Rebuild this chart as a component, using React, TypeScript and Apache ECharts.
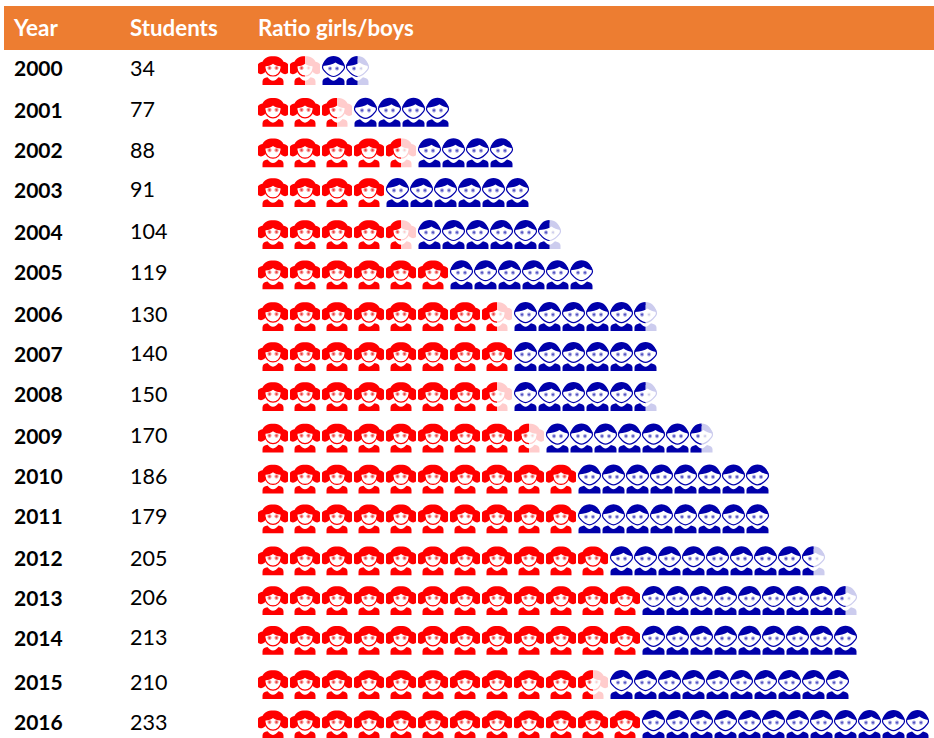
import React, { useEffect, useRef } from "react";
import * as echarts from "echarts";

const YEARS = ["2000","2001","2002","2003","2004","2005","2006","2007","2008","2009","2010","2011","2012","2013","2014","2015","2016"];
const STUDENTS = [34,77,88,91,104,119,130,140,150,170,186,179,205,206,213,210,233];
const GIRL_ICONS = [1.5,2.5,4.5,4,4.5,6,7.5,8,7.5,8.5,10,10,11,12,12,10.5,12];
const BOY_ICONS = [1.5,4,4,6,5.5,6,5.5,6,5.5,6.5,8,8,8.5,8.5,9,10,12];
const HEADERS = ["Year","Students","Ratio girls/boys"];

// small per-row layout correction, px (the source table's rows are not evenly spaced)
const ROW_NUDGE = [0,1,0.5,-0.6,0.6,0,1,0,-0.7,0,0,-1,0,-1,-2,1.4,0.6];

const RED = "#FF0000", RED_FADE = "#FFCCCC", RED_EYE = "#F6A0A0", RED_PUPIL = "#F04040";
const BLUE = "#0000AA", BLUE_FADE = "#CCCCEE", BLUE_EYE = "#B0B0E6", BLUE_PUPIL = "#5050C0";
const FONT = "Lato";

const GIRL_W = 30, BOY_W = 23, ICON_H = 29;
const BOY_SLOT = 0.75; // a boy icon takes three quarters of a girl icon's slot

const GIRL_HAIR = "M15 0C9.5 0 6 2 4.5 5.5C3 5.5 1 6.5 0 8V16.5C2 19 5 18 7.5 15.5L7.5 10C11 10 13 9 15 7.5C17 9 19 10 22.5 10L22.5 15.5C25 18 28 19 30 16.5V8C29 6.5 27 5.5 25.5 5.5C24 2 20.5 0 15 0Z";
const GIRL_CHIN = "M7 12.5C7.5 17 11 20 15 20C19 20 22.5 17 23 12.5";
const GIRL_BODY = "M4.5 29V25.5C4.5 23 6.5 21.5 9.5 21.2C11 23 13 24.8 15 24.8C17 24.8 19 23 20.5 21.2C23.5 21.5 25.5 23 25.5 25.5V29Z";
const BOY_FACE = "M11.5 2C18 2 22.5 8 22.5 11C22.5 14 16 20.5 11.5 20.5C7 20.5 0.5 14 0.5 11C0.5 8 5 2 11.5 2Z";
const BOY_HAIR = "M0.5 10C1.5 4 6 0 11.5 0C17 0 21.5 4 22.5 10C19 9.5 16 8.5 13.5 6.5C11 8.5 6 9.5 0.5 10Z";
const BOY_BODY = "M0.5 29V25.5C0.5 23.5 2.5 22 6 21.3C8 23 10 24.8 11.5 24.8C13 24.8 15 23 17 21.3C20.5 22 22.5 23.5 22.5 25.5V29Z";

function rawPath(d: string, box: number[], style: any) {
  return { type: "path", shape: { pathData: d, x: box[0], y: box[1], width: box[2], height: box[3] }, style };
}

function eyes(cx1: number, cx2: number, cy: number, halo: string, pupil: string) {
  return [cx1, cx2].flatMap((cx) => [
    { type: "circle", shape: { cx, cy, r: 2.1 }, style: { fill: halo } },
    { type: "circle", shape: { cx, cy, r: 1 }, style: { fill: pupil } },
  ]);
}

function girlParts(c: string, halo: string, pupil: string) {
  return [
    rawPath(GIRL_HAIR, [0, 0, 30, 18.5], { fill: c }),
    rawPath(GIRL_CHIN, [7, 12.5, 16, 7.5], { fill: "none", stroke: c, lineWidth: 1.2 }),
    ...eyes(11.5, 18.5, 12, halo, pupil),
    rawPath(GIRL_BODY, [4.5, 21.2, 21, 7.8], { fill: c }),
  ];
}
function boyParts(c: string, halo: string, pupil: string) {
  return [
    rawPath(BOY_FACE, [0.5, 2, 22, 18.5], { fill: "#fff", stroke: c, lineWidth: 1.2 }),
    rawPath(BOY_HAIR, [0.5, 0, 22, 10], { fill: c }),
    ...eyes(8, 15, 12.5, halo, pupil),
    rawPath(BOY_BODY, [0.5, 21.3, 22, 7.7], { fill: c }),
  ];
}

function icon(x: number, y: number, frac: number, w: number, parts: (c: string, h: string, p: string) => any[], dark: string, fade: string, halo: string, pupil: string) {
  const children: any[] = [];
  if (frac >= 1) {
    children.push(...parts(dark, halo, pupil));
  } else {
    children.push(...parts(fade, "#F4F4F4", fade));
    children.push({
      type: "group",
      clipPath: { type: "rect", shape: { x: 0, y: -1, width: w * frac, height: ICON_H + 2 } },
      children: parts(dark, halo, pupil),
    });
  }
  return { type: "group", x, y, children };
}

export default function App() {
  const ref = useRef<HTMLDivElement>(null);
  useEffect(() => {
    document.body.style.margin = "0";
    const chart = echarts.init(ref.current!, undefined, { renderer: "svg", width: 934, height: 738 });

    const rowTop = (api: any, row: number) => api.coord([0, row])[1] - ICON_H / 2 + ROW_NUDGE[row];

    const renderGirls = (p: any, api: any) => {
      const row = api.value(0), n = api.value(1);
      const children: any[] = [];
      for (let i = 0; i < Math.ceil(n); i++) {
        const x = api.coord([i, row])[0];
        children.push(icon(x, rowTop(api, row), Math.min(1, n - i), GIRL_W, girlParts, RED, RED_FADE, RED_EYE, RED_PUPIL));
      }
      return { type: "group", children };
    };
    const renderBoys = (p: any, api: any) => {
      const row = api.value(0), n = api.value(1), start = Math.ceil(GIRL_ICONS[row]);
      const children: any[] = [];
      for (let i = 0; i < Math.ceil(n); i++) {
        const x = api.coord([start + i * BOY_SLOT, row])[0];
        children.push(icon(x, rowTop(api, row), Math.min(1, n - i), BOY_W, boyParts, BLUE, BLUE_FADE, BLUE_EYE, BLUE_PUPIL));
      }
      return { type: "group", children };
    };
    const renderText = (p: any, api: any) => {
      const row = api.value(0);
      const y = api.coord([0, row])[1] - 3 + ROW_NUDGE[row];
      return {
        type: "group",
        children: [
          { type: "text", x: 14, y, style: { text: YEARS[row], fontFamily: FONT, fontWeight: "bold", fontSize: 21, fill: "#000", verticalAlign: "middle", align: "left" } },
          { type: "text", x: 130, y, style: { text: String(STUDENTS[row]), fontFamily: FONT, fontSize: 21.5, fill: "#000", verticalAlign: "middle", align: "left" } },
        ],
      };
    };

    chart.setOption({
      animation: false,
      backgroundColor: "#fff",
      grid: { left: 258, top: 70.5, width: 672, height: 653.5 },
      xAxis: { type: "value", min: 0, max: 21, show: false },
      yAxis: { type: "category", inverse: true, boundaryGap: false, data: YEARS, show: false },
      graphic: [
        { type: "rect", shape: { x: 4, y: 6, width: 930, height: 44 }, style: { fill: "#ED7D31" } },
        { type: "text", x: 14, y: 27, style: { text: HEADERS[0], fontFamily: FONT, fontWeight: "bold", fontSize: 22.5, fill: "#fff", verticalAlign: "middle" } },
        { type: "text", x: 130, y: 27, style: { text: HEADERS[1], fontFamily: FONT, fontWeight: "bold", fontSize: 22.3, fill: "#fff", verticalAlign: "middle" } },
        { type: "text", x: 258, y: 27, style: { text: HEADERS[2], fontFamily: FONT, fontWeight: "bold", fontSize: 22.3, fill: "#fff", verticalAlign: "middle" } },
      ],
      series: [
        { type: "custom", name: "Table", clip: false, silent: true, data: YEARS.map((_, i) => [i]), encode: { y: 0 }, renderItem: renderText },
        { type: "custom", name: "Girls", clip: false, silent: true, data: GIRL_ICONS.map((v, i) => [i, v]), encode: { y: 0 }, renderItem: renderGirls },
        { type: "custom", name: "Boys", clip: false, silent: true, data: BOY_ICONS.map((v, i) => [i, v]), encode: { y: 0 }, renderItem: renderBoys },
      ],
    });
    return () => chart.dispose();
  }, []);
  return <div ref={ref} style={{ width: 934, height: 738 }} />;
}
